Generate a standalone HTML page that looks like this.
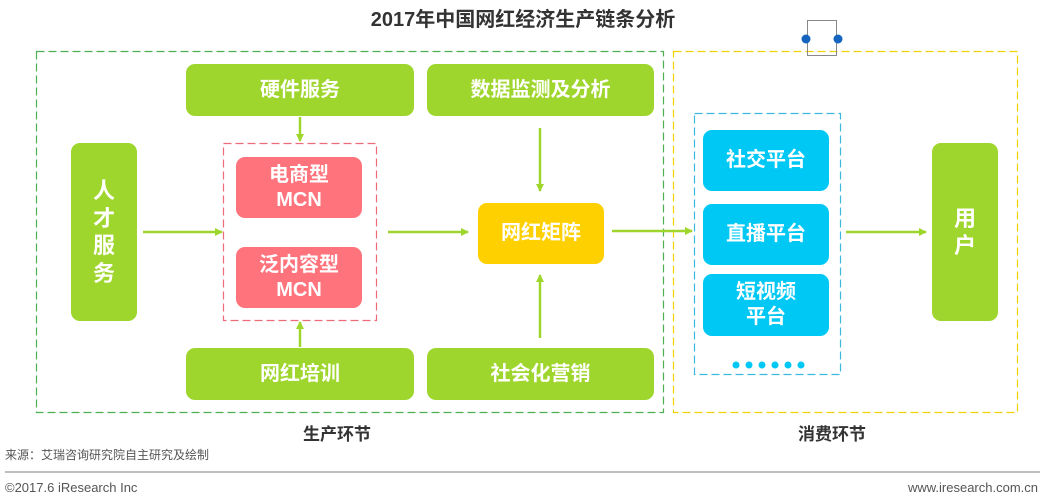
<!DOCTYPE html>
<html><head><meta charset="utf-8"><style>
body{margin:0;width:1046px;height:500px;background:#fff;position:relative;overflow:hidden;font-family:"Liberation Sans","Noto Sans CJK SC",sans-serif}
.a{position:absolute;box-sizing:border-box}
.b{position:absolute;box-sizing:border-box;display:flex;align-items:center;justify-content:center;text-align:center;color:#fff;font-weight:bold;border-radius:9px;line-height:1.25}
.g{background:#9FD62D;font-size:20px}
.p{background:#FF737D;font-size:20px}
.c{background:#00C8F4;font-size:20px}
.t{position:absolute;font-weight:bold;color:#333;transform:translateX(-50%);white-space:nowrap}
</style></head><body>
<div class="t" style="left:523px;top:3px;font-size:20px;color:#333">2017年中国网红经济生产链条分析</div>
<svg class="a" style="left:0;top:0" width="1046" height="500">
<defs><marker id="m" markerWidth="8" markerHeight="8" refX="7" refY="4" orient="auto" markerUnits="userSpaceOnUse"><path d="M0,0L8,4L0,8z" fill="#9FD62D"/></marker></defs>
<g fill="none" stroke-width="1.2" stroke-dasharray="8,4">
<rect x="36.5" y="51.5" width="627" height="361" stroke="#4CB050"/>
<rect x="673.5" y="51.5" width="344" height="361" stroke="#F2D100"/>
<rect x="223.5" y="143.5" width="153" height="177" stroke="#EE6B7A"/>
<rect x="694.5" y="113.5" width="146" height="261" stroke="#3BB7E0"/>
</g>
<rect x="807.5" y="20.5" width="29" height="35" fill="none" stroke="#888"/>
<circle cx="806" cy="39" r="4.5" fill="#1565C0"/><circle cx="838" cy="39" r="4.5" fill="#1565C0"/>
<g stroke="#9FD62D" stroke-width="2.5" fill="none" marker-end="url(#m)">
<line x1="143" y1="232" x2="222" y2="232"/>
<line x1="388" y1="232" x2="468" y2="232"/>
<line x1="612" y1="231" x2="692" y2="231"/>
<line x1="846" y1="232" x2="926" y2="232"/>
<line x1="300" y1="117" x2="300" y2="141"/>
<line x1="540" y1="128" x2="540" y2="191"/>
<line x1="540" y1="338" x2="540" y2="275"/>
<line x1="300" y1="347" x2="300" y2="322"/>
</g>
<g fill="#00C8F4"><circle cx="736" cy="365" r="3.5"/><circle cx="749" cy="365" r="3.5"/><circle cx="762" cy="365" r="3.5"/><circle cx="775" cy="365" r="3.5"/><circle cx="788" cy="365" r="3.5"/><circle cx="801" cy="365" r="3.5"/></g>
<line x1="5" y1="472" x2="1040" y2="472" stroke="#aaa" stroke-width="1.5"/>
</svg>
<div class="b g" style="left:186px;top:64px;width:228px;height:52px">硬件服务</div>
<div class="b g" style="left:427px;top:64px;width:227px;height:52px">数据监测及分析</div>
<div class="b g" style="left:71px;top:143px;width:66px;height:178px;font-size:22px">人<br>才<br>服<br>务</div>
<div class="b p" style="left:236px;top:157px;width:126px;height:61px">电商型<br>MCN</div>
<div class="b p" style="left:236px;top:247px;width:126px;height:61px">泛内容型<br>MCN</div>
<div class="b" style="left:478px;top:203px;width:126px;height:61px;background:#FFD000;font-size:20px">网红矩阵</div>
<div class="b g" style="left:186px;top:348px;width:228px;height:52px">网红培训</div>
<div class="b g" style="left:427px;top:348px;width:227px;height:52px">社会化营销</div>
<div class="b c" style="left:703px;top:130px;width:126px;height:61px">社交平台</div>
<div class="b c" style="left:703px;top:204px;width:126px;height:61px">直播平台</div>
<div class="b c" style="left:703px;top:274px;width:126px;height:62px">短视频<br>平台</div>
<div class="b g" style="left:932px;top:143px;width:66px;height:178px;font-size:22px">用<br>户</div>
<div class="t" style="left:337px;top:420px;font-size:17px">生产环节</div>
<div class="t" style="left:832px;top:420px;font-size:17px">消费环节</div>
<div class="a" style="left:5px;top:446px;font-size:12px;color:#555">来源：艾瑞咨询研究院自主研究及绘制</div>
<div class="a" style="left:5px;top:480px;font-size:13px;color:#555">©2017.6 iResearch Inc</div>
<div class="a" style="right:8px;top:480px;font-size:13px;color:#555">www.iresearch.com.cn</div>
</body></html>
